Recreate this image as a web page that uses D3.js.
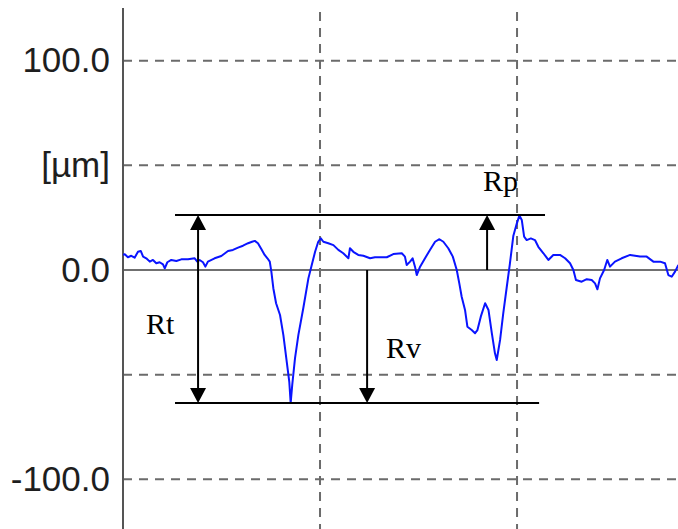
<!DOCTYPE html>
<html>
<head>
<meta charset="utf-8">
<script src="https://cdn.jsdelivr.net/npm/d3@7"></script>
<style>
  html, body { margin: 0; padding: 0; background: #fff; }
  svg { display: block; }
</style>
</head>
<body>
<svg id="chart" width="678" height="529"></svg>
<script>
// ---- data ----
const profileX = [0,0.009,0.025,0.042,0.059,0.076,0.090,0.102,0.118,0.136,0.152,0.169,0.186,0.203,0.212,0.225,0.245,0.271,0.296,0.330,0.364,0.377,0.389,0.406,0.418,0.431,0.465,0.499,0.533,0.558,0.584,0.609,0.635,0.655,0.669,0.685,0.702,0.719,0.733,0.745,0.753,0.763,0.777,0.797,0.814,0.831,0.844,0.851,0.859,0.873,0.890,0.915,0.941,0.958,0.975,0.991,1.004,1.017,1.042,1.068,1.093,1.118,1.144,1.152,1.169,1.194,1.220,1.254,1.279,1.339,1.372,1.415,1.431,1.440,1.457,1.470,1.482,1.491,1.508,1.533,1.558,1.584,1.606,1.626,1.651,1.674,1.694,1.707,1.719,1.736,1.748,1.770,1.787,1.799,1.816,1.838,1.855,1.872,1.888,1.897,1.914,1.930,1.948,1.964,1.981,1.999,2.012,2.024,2.036,2.049,2.070,2.091,2.108,2.134,2.159,2.184,2.218,2.244,2.269,2.286,2.299,2.328,2.354,2.379,2.396,2.408,2.421,2.442,2.458,2.472,2.497,2.531,2.574,2.624,2.658,2.692,2.726,2.751,2.768,2.785,2.802,2.819];
const profileY = [7.2,7.5,6.1,6.8,5.9,8.7,9.1,6.4,5.6,4.0,4.8,3.2,3.7,2.7,0.8,3.7,4.8,4.3,5.1,5.1,5.6,4.0,4.8,3.7,1.6,4.0,5.6,6.7,9.1,9.6,10.7,11.6,12.8,13.5,13.9,12.8,10.0,7.2,5.6,4.0,-0.8,-8.7,-15.9,-21.5,-31.1,-43.8,-53.4,-63.5,-54.9,-42.2,-31.1,-18.3,-4.0,2.4,8.7,13.5,15.1,13.5,12.8,11.9,9.6,8.0,5.6,10.4,8.7,7.2,6.8,5.6,6.1,6.1,7.6,8.0,6.4,2.4,4.0,5.6,1.6,-2.4,1.6,5.6,9.6,13.5,14.7,13.5,10.4,6.4,0.0,-6.4,-12.8,-19.1,-27.1,-28.7,-30.2,-28.7,-22.3,-15.9,-19.1,-30.2,-39.8,-43.0,-33.4,-20.7,-8.0,3.2,16.2,22.3,26.0,23.9,15.9,14.3,15.1,14.3,11.1,8.0,4.8,7.2,7.2,5.6,3.2,0.0,-4.8,-5.6,-4.4,-4.8,-6.4,-9.2,-4.0,0.0,4.8,1.6,4.0,5.6,7.2,6.4,6.4,4.0,4.0,3.2,-2.4,-3.2,-0.8,2.4];
const yTickValues = [100, 50, 0, -50, -100];
const yTickLabels = ["100.0", "[µm]", "0.0", "", "-100.0"];
const xGridValues = [1, 2];
const peakRp = 26.3;     // µm
const valleyRv = -63.5;  // µm
const annotationLabels = ["Rt", "Rv", "Rp"];

// ---- layout ----
const W = 678, H = 529;
const svg = d3.select("#chart");
const x = d3.scaleLinear().domain([0, 2.817]).range([123, 678]);
const y = d3.scaleLinear().domain([-100, 100]).range([479.3, 60.7]);

const gridColor = "#6b6b6b";

// horizontal dashed gridlines
svg.append("g").selectAll("line")
  .data(yTickValues.filter(v => v !== 0))
  .join("line")
  .attr("x1", x(0)).attr("x2", W)
  .attr("y1", d => y(d)).attr("y2", d => y(d))
  .attr("stroke", gridColor).attr("stroke-width", 2)
  .attr("stroke-dasharray", "9,7");

// vertical dashed gridlines
svg.append("g").selectAll("line")
  .data(xGridValues)
  .join("line")
  .attr("x1", d => x(d)).attr("x2", d => x(d))
  .attr("y1", 12).attr("y2", H)
  .attr("stroke", gridColor).attr("stroke-width", 2)
  .attr("stroke-dasharray", "9,7");

// zero line
svg.append("line")
  .attr("x1", x(0)).attr("x2", W)
  .attr("y1", y(0)).attr("y2", y(0))
  .attr("stroke", "#707070").attr("stroke-width", 2);

// y axis line
svg.append("line")
  .attr("x1", x(0)).attr("x2", x(0))
  .attr("y1", 8).attr("y2", H)
  .attr("stroke", "#555").attr("stroke-width", 2);

// y tick labels
const yAxis = d3.axisLeft(y).tickValues(yTickValues)
  .tickFormat((d, i) => yTickLabels[i]).tickSize(0).tickPadding(13);
const gAxis = svg.append("g").attr("transform", `translate(${x(0)},0)`).call(yAxis);
gAxis.select(".domain").remove();
gAxis.selectAll("text")
  .attr("font-family", "'Liberation Sans', Arial, sans-serif")
  .attr("font-size", 35)
  .attr("fill", "#1e1e1e");

// profile
const pts = profileX.map((d, i) => [d, profileY[i]]);
svg.append("defs").append("clipPath").attr("id", "clip")
  .append("rect").attr("x", x(0)).attr("y", 0).attr("width", W - x(0)).attr("height", H);
svg.append("path")
  .datum(pts)
  .attr("clip-path", "url(#clip)")
  .attr("fill", "none")
  .attr("stroke", "#0a14ff")
  .attr("stroke-width", 2)
  .attr("stroke-linejoin", "round")
  .attr("d", d3.line().x(d => x(d[0])).y(d => y(d[1])));

// annotation reference lines
const ann = svg.append("g");
ann.append("line")
  .attr("x1", x(0.264)).attr("x2", x(2.142))
  .attr("y1", y(peakRp)).attr("y2", y(peakRp))
  .attr("stroke", "#000").attr("stroke-width", 2);
ann.append("line")
  .attr("x1", x(0.264)).attr("x2", x(2.112))
  .attr("y1", y(valleyRv)).attr("y2", y(valleyRv))
  .attr("stroke", "#000").attr("stroke-width", 2);

function arrow(xv, fromV, toV, both) {
  const xp = x(xv), y1 = y(fromV), y2 = y(toV);
  const hw = 8, hh = 15;
  const dir = Math.sign(y2 - y1);
  ann.append("line")
    .attr("x1", xp).attr("x2", xp)
    .attr("y1", both ? y1 + dir * hh * 0.8 : y1)
    .attr("y2", y2 - dir * hh * 0.8)
    .attr("stroke", "#000").attr("stroke-width", 2);
  const head = (tipY, d) => ann.append("path")
    .attr("d", `M${xp},${tipY} L${xp - hw},${tipY - d * hh} L${xp + hw},${tipY - d * hh} Z`)
    .attr("fill", "#000");
  head(y2, dir);
  if (both) head(y1, -dir);
}
arrow(0.381, peakRp, valleyRv, true);   // Rt
arrow(1.239, 0, valleyRv, false);      // Rv
arrow(1.848, 0, peakRp, false);        // Rp

const serif = "'Liberation Serif', 'Times New Roman', serif";
const labelPos = [[0.117, -30.6], [1.335, -42.1], [1.827, 37.9]];
ann.selectAll("text.ann")
  .data(annotationLabels)
  .join("text")
  .attr("class", "ann")
  .attr("x", (d, i) => x(labelPos[i][0]))
  .attr("y", (d, i) => y(labelPos[i][1]))
  .attr("font-family", serif)
  .attr("font-size", 30)
  .attr("fill", "#000")
  .text(d => d);
</script>
</body>
</html>
